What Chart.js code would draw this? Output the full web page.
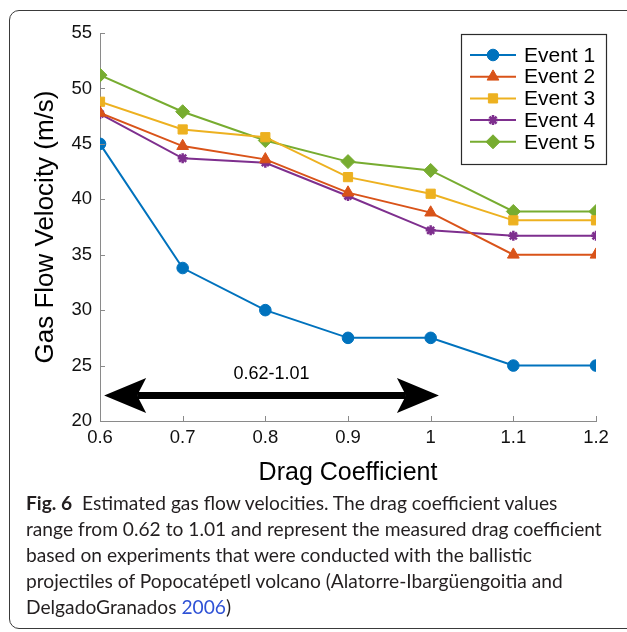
<!DOCTYPE html>
<html>
<head>
<meta charset="utf-8">
<script src="https://cdn.jsdelivr.net/npm/chart.js@4/dist/chart.umd.min.js"></script>
<style>
  html, body { margin: 0; padding: 0; background: #fff; width: 627px; height: 632px; overflow: hidden; }
  #card { position: absolute; left: 9px; top: 10px; width: 650px; height: 619px; border: 1.3px solid #3a3a3a; border-radius: 10px; box-sizing: border-box; }
  #wrap { position: absolute; left: 0; top: 0; }
  #caption { position: absolute; left: 26px; top: 490px; font-family: Lato, "Open Sans", sans-serif; font-size: 19.2px; line-height: 26px; color: #231f20; white-space: nowrap; }
  #caption b { font-weight: 700; }
  #caption .ref { color: #2f52d6; }
</style>
</head>
<body>
<div id="card"></div>
<div id="wrap"><canvas id="chart" width="627" height="500"></canvas></div>
<div id="caption">
  <b>Fig. 6</b>&nbsp; Estimated gas flow velocities. The drag coefficient values<br>
  range from 0.62 to 1.01 and represent the measured drag coefficient<br>
  based on experiments that were conducted with the ballistic<br>
  projectiles of Popocatépetl volcano (Alatorre-Ibargüengoitia and<br>
  DelgadoGranados <span class="ref">2006</span>)
</div>
<script>
// valores
const dragCoeff = [0.6, 0.7, 0.8, 0.9, 1.0, 1.1, 1.2];
const event1 = [45.0, 33.8, 30.0, 27.5, 27.5, 25.0, 25.0];
const event2 = [47.8, 44.8, 43.6, 40.6, 38.8, 35.0, 35.0];
const event3 = [48.8, 46.3, 45.6, 42.0, 40.5, 38.1, 38.1];
const event4 = [47.7, 43.7, 43.3, 40.3, 37.2, 36.7, 36.7];
const event5 = [51.2, 47.9, 45.3, 43.4, 42.6, 38.9, 38.9];
const xTicks = [0.6, 0.7, 0.8, 0.9, 1.0, 1.1, 1.2];
const yTicks = [20, 25, 30, 35, 40, 45, 50, 55];

// rango medido del coeficiente (flecha)
const arrowSpan = [0.605, 1.01];
const arrowY = 22.3;
const arrowLabel = '0.62-1.01';
const arrowLabelY = 24.2;

const series = [
  { label: 'Event 1', values: event1, color: '#0072BD', style: 'circle',   radius: 5.8, bw: 1 },
  { label: 'Event 2', values: event2, color: '#D95319', style: 'triangle', radius: 6.8, bw: 1 },
  { label: 'Event 3', values: event3, color: '#EDB120', style: 'rect',     radius: 6.5, bw: 1 },
  { label: 'Event 4', values: event4, color: '#7E2F8E', style: 'star',     radius: 5,   bw: 2.5 },
  { label: 'Event 5', values: event5, color: '#77AC30', style: 'rectRot',  radius: 7,   bw: 1 }
];

const FONT = '"Liberation Sans", Arial, sans-serif';

function createDataset(s) {
  return {
    label: s.label,
    data: dragCoeff.map((x, i) => ({ x: x, y: s.values[i] })),
    borderColor: s.color,
    backgroundColor: s.color,
    borderWidth: 2,
    pointStyle: s.style,
    pointRadius: s.radius,
    pointBorderWidth: s.bw,
    pointBackgroundColor: s.color,
    pointBorderColor: s.color,
    tension: 0,
    fill: false
  };
}

// marcas de eje hacia dentro (estilo MATLAB)
const inwardTicks = {
  id: 'inwardTicks',
  afterDraw(chart) {
    const { ctx, chartArea, scales } = chart;
    ctx.save();
    ctx.strokeStyle = '#8a8a8a';
    ctx.lineWidth = 1;
    ctx.beginPath();
    scales.x.ticks.forEach(t => {
      const px = Math.round(scales.x.getPixelForValue(t.value)) + 0.5;
      ctx.moveTo(px, chartArea.bottom);
      ctx.lineTo(px, chartArea.bottom - 5);
    });
    scales.y.ticks.forEach(t => {
      const py = Math.round(scales.y.getPixelForValue(t.value)) + 0.5;
      ctx.moveTo(chartArea.left, py);
      ctx.lineTo(chartArea.left + 5, py);
    });
    ctx.stroke();
    ctx.restore();
  }
};

// flecha doble con etiqueta
const rangeArrow = {
  id: 'rangeArrow',
  afterDatasetsDraw(chart) {
    const { ctx, scales } = chart;
    const x0 = scales.x.getPixelForValue(arrowSpan[0]);
    const x1 = scales.x.getPixelForValue(arrowSpan[1]);
    const y = scales.y.getPixelForValue(arrowY);
    const headLen = 42, headHalf = 17.5, notch = 9;
    ctx.save();
    ctx.fillStyle = '#000';
    ctx.strokeStyle = '#000';
    ctx.lineWidth = 7;
    ctx.beginPath();
    ctx.moveTo(x0 + headLen - notch, y);
    ctx.lineTo(x1 - headLen + notch, y);
    ctx.stroke();
    ctx.beginPath();
    ctx.moveTo(x0, y);
    ctx.lineTo(x0 + headLen, y - headHalf);
    ctx.lineTo(x0 + headLen - notch, y);
    ctx.lineTo(x0 + headLen, y + headHalf);
    ctx.closePath();
    ctx.fill();
    ctx.beginPath();
    ctx.moveTo(x1, y);
    ctx.lineTo(x1 - headLen, y - headHalf);
    ctx.lineTo(x1 - headLen + notch, y);
    ctx.lineTo(x1 - headLen, y + headHalf);
    ctx.closePath();
    ctx.fill();
    ctx.font = '18px ' + FONT;
    ctx.textAlign = 'center';
    ctx.textBaseline = 'middle';
    ctx.fillText(arrowLabel, (x0 + x1) / 2, scales.y.getPixelForValue(arrowLabelY));
    ctx.restore();
  }
};

// leyenda con recuadro, dentro del área del gráfico
const boxLegend = {
  id: 'boxLegend',
  afterDraw(chart) {
    const { ctx } = chart;
    const box = { left: 461, top: 34, width: 145, height: 130 };
    ctx.save();
    ctx.fillStyle = '#fff';
    ctx.fillRect(box.left, box.top, box.width, box.height);
    ctx.strokeStyle = '#2b2b2b';
    ctx.lineWidth = 1.2;
    ctx.strokeRect(box.left + 0.5, box.top + 0.5, box.width, box.height);
    ctx.font = '21px ' + FONT;
    ctx.textBaseline = 'middle';
    ctx.textAlign = 'left';
    series.forEach((s, i) => {
      const y = 55 + i * 21.7;
      ctx.strokeStyle = s.color;
      ctx.fillStyle = s.color;
      ctx.lineWidth = 2;
      ctx.beginPath();
      ctx.moveTo(470, y);
      ctx.lineTo(516, y);
      ctx.stroke();
      ctx.lineWidth = s.bw;
      Chart.helpers.drawPoint(ctx, { pointStyle: s.style, radius: s.radius, rotation: 0, borderWidth: s.bw }, 493, y);
      ctx.fillStyle = '#000';
      ctx.fillText(s.label, 524, y + 1);
    });
    ctx.restore();
  }
};

const ctx = document.getElementById('chart');
new Chart(ctx, {
  type: 'line',
  data: { datasets: series.map(createDataset) },
  options: {
    responsive: false,
    animation: false,
    layout: { padding: { left: 0, right: 31, top: 33, bottom: 0 } },
    plugins: { legend: { display: false }, tooltip: { enabled: false } },
    scales: {
      x: {
        type: 'linear',
        min: 0.6,
        max: 1.2,
        afterBuildTicks: scale => { scale.ticks = xTicks.map(v => ({ value: v })); },
        afterFit: scale => { scale.height = 79; },
        grid: { display: false, drawTicks: false },
        border: { display: true, color: '#8a8a8a', width: 1 },
        ticks: {
          color: '#111',
          font: { family: FONT, size: 18.5 },
          padding: 6,
          maxRotation: 0,
          callback: v => String(Math.round(v * 10) / 10)
        },
        title: {
          display: true,
          text: 'Drag Coefficient',
          color: '#000',
          font: { family: FONT, size: 25 },
          padding: { top: 0, bottom: 12 }
        }
      },
      y: {
        type: 'linear',
        min: 20,
        max: 55,
        afterBuildTicks: scale => { scale.ticks = yTicks.map(v => ({ value: v })); },
        afterFit: scale => { scale.width = 100; },
        grid: { display: false, drawTicks: false },
        border: { display: true, color: '#8a8a8a', width: 1 },
        ticks: {
          color: '#111',
          font: { family: FONT, size: 18.5 },
          padding: 8
        },
        title: {
          display: true,
          text: 'Gas Flow Velocity (m/s)',
          color: '#000',
          font: { family: FONT, size: 26 },
          padding: { top: 30, bottom: 0 }
        }
      }
    }
  },
  plugins: [inwardTicks, rangeArrow, boxLegend]
});
</script>
</body>
</html>
